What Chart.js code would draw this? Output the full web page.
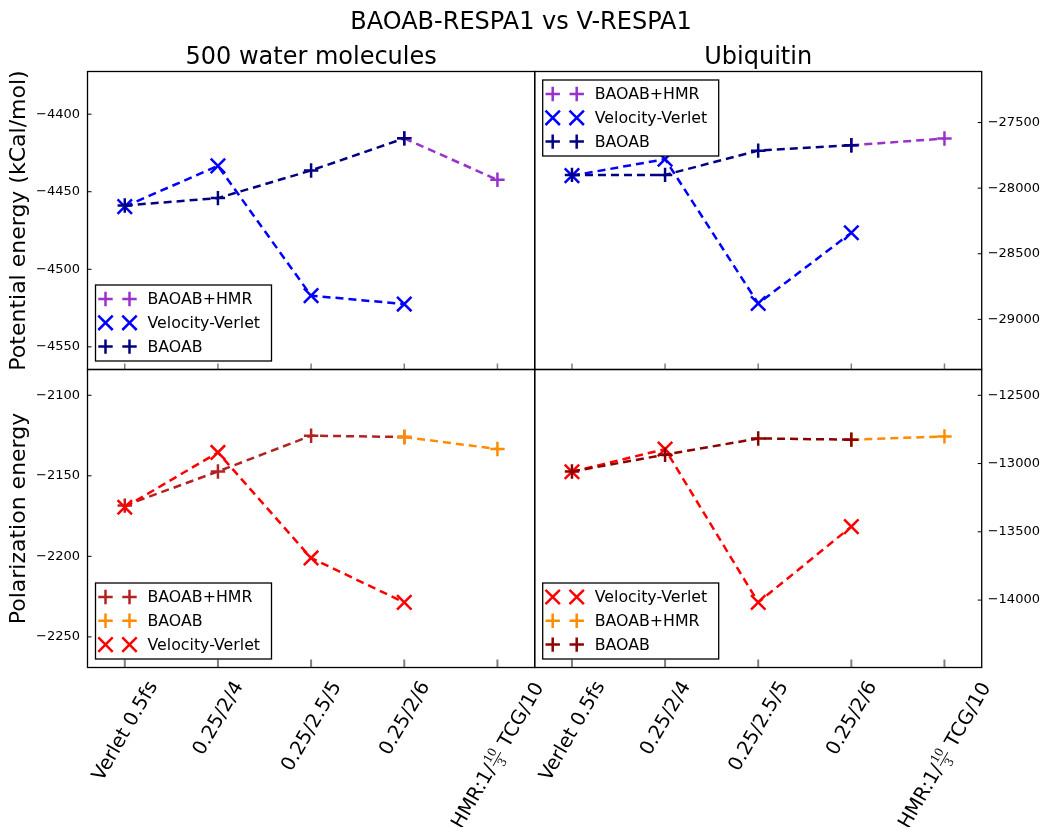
<!DOCTYPE html>
<html>
<head>
<meta charset="utf-8">
<title>BAOAB-RESPA1 vs V-RESPA1</title>
<script src="https://cdn.jsdelivr.net/npm/chart.js@4.4.0/dist/chart.umd.min.js"></script>
<style>
  body { margin: 0; background: #fff; }
  #wrap { position: relative; width: 1042px; height: 827px; }
  #wrap canvas { position: absolute; left: 0; top: 0; }
</style>
</head>
<body>
<div id="wrap">
  <canvas id="waterPot" width="1042" height="827"></canvas>
  <canvas id="ubqPot" width="1042" height="827"></canvas>
  <canvas id="waterPol" width="1042" height="827"></canvas>
  <canvas id="ubqPol" width="1042" height="827"></canvas>
</div>
<script>
// x categories ({a/b} = fraction)
const xLabels = ['Verlet 0.5fs', '0.25/2/4', '0.25/2.5/5', '0.25/2/6', 'HMR:1/{10/3} TCG/10'];

// potential energy, 500 water molecules
const waterPotHMR   = [null, null, null, -4415.6, -4442.3];
const waterPotVV    = [-4459.6, -4433.3, -4517.0, -4522.4, null];
const waterPotBAOAB = [-4458.9, -4454.1, -4436.3, -4415.6, null];
const waterPotRange = [-4564.6, -4372.5];
const waterPotTicks = [-4550, -4500, -4450, -4400];

// potential energy, ubiquitin
const ubqPotHMR   = [null, null, null, -27673, -27622];
const ubqPotVV    = [-27905, -27779, -28879, -28340, null];
const ubqPotBAOAB = [-27899, -27899, -27714, -27673, null];
const ubqPotRange = [-29382, -27111];
const ubqPotTicks = [-29000, -28500, -28000, -27500];

// polarization energy, 500 water molecules
const waterPolHMR   = [-2168.5, -2147.3, -2125.1, -2125.9, null];
const waterPolBAOAB = [null, null, null, -2125.9, -2133.4];
const waterPolVV    = [-2169.5, -2135.5, -2201.0, -2228.6, null];
const waterPolRange = [-2269, -2084];
const waterPolTicks = [-2250, -2200, -2150, -2100];

// polarization energy, ubiquitin
const ubqPolVV    = [-13060, -12894, -14017, -13462, null];
const ubqPolHMR   = [null, null, null, -12825, -12801];
const ubqPolBAOAB = [-13058, -12935, -12816, -12825, null];
const ubqPolRange = [-14494, -12311];
const ubqPolTicks = [-14000, -13500, -13000, -12500];

const W = 1042, H = 827;
const FONT = '"DejaVu Sans", sans-serif';

function series(label, values, color, marker) {
    const pts = [];
    values.forEach((v, i) => { if (v !== null) pts.push({ x: i, y: v }); });
    return {
        label: label,
        data: pts,
        borderColor: color,
        backgroundColor: color,
        borderWidth: 2.5,
        borderDash: [8, 5],
        pointStyle: marker === '+' ? 'cross' : 'crossRot',
        pointRadius: marker === '+' ? 7.2 : 10.2,
        pointBorderWidth: 2.5,
        marker: marker,
        fill: false,
        tension: 0
    };
}

function drawMarker(ctx, marker, x, y, color) {
    ctx.save();
    ctx.strokeStyle = color;
    ctx.lineWidth = 2.5;
    ctx.beginPath();
    if (marker === '+') {
        ctx.moveTo(x - 7.2, y); ctx.lineTo(x + 7.2, y);
        ctx.moveTo(x, y - 7.2); ctx.lineTo(x, y + 7.2);
    } else {
        ctx.moveTo(x - 7.2, y - 7.2); ctx.lineTo(x + 7.2, y + 7.2);
        ctx.moveTo(x - 7.2, y + 7.2); ctx.lineTo(x + 7.2, y - 7.2);
    }
    ctx.stroke();
    ctx.restore();
}

function minus(v) {
    return (v < 0 ? '\u2212' : '') + Math.abs(v);
}

// draw one x label, rotated 60deg, centred under its tick like matplotlib
function drawXLabel(ctx, text, cx, top) {
    const fs = 19.5, small = 11.5;
    const m = text.match(/^(.*)\{(\d+)\/(\d+)\}(.*)$/);
    const parts = m ? [m[1], { num: m[2], den: m[3] }, m[4]] : [text];
    let w = 0;
    const widths = parts.map(p => {
        let pw;
        if (typeof p === 'string') {
            ctx.font = fs + 'px ' + FONT;
            pw = ctx.measureText(p).width;
        } else {
            ctx.font = small + 'px "DejaVu Serif", serif';
            pw = Math.max(ctx.measureText(p.num).width, ctx.measureText(p.den).width) + 3;
        }
        w += pw;
        return pw;
    });
    const h = m ? 26 : 21;
    const a = Math.PI / 3;
    const bh = w * Math.sin(a) + h * Math.cos(a);
    ctx.save();
    ctx.translate(cx, top + bh / 2);
    ctx.rotate(-a);
    ctx.fillStyle = '#000';
    ctx.textBaseline = 'middle';
    ctx.textAlign = 'left';
    let x = -w / 2;
    parts.forEach((p, i) => {
        if (typeof p === 'string') {
            ctx.font = fs + 'px ' + FONT;
            ctx.fillText(p, x, 1);
        } else {
            ctx.font = small + 'px "DejaVu Serif", serif';
            ctx.textAlign = 'center';
            const c = x + widths[i] / 2;
            ctx.fillText(p.num, c, -5.5);
            ctx.fillText(p.den, c, 8.5);
            ctx.fillRect(x + 1, 1, widths[i] - 2, 0.9);
            ctx.textAlign = 'left';
        }
        x += widths[i];
    });
    ctx.restore();
}

const panelDecor = {
    id: 'panelDecor',
    afterDraw(chart, args, opts) {
        const ctx = chart.ctx;
        const a = chart.chartArea;
        const xs = chart.scales.x, ys = chart.scales.y;
        ctx.save();

        // x ticks (inward, grey)
        ctx.strokeStyle = '#7f7f7f';
        ctx.lineWidth = opts.xLabels ? 2 : 1.5;
        const tl = opts.xLabels ? 8 : 6;
        for (let i = 0; i < xLabels.length; i++) {
            const px = xs.getPixelForValue(i);
            ctx.beginPath();
            ctx.moveTo(px, a.bottom);
            ctx.lineTo(px, a.bottom - tl);
            ctx.stroke();
        }

        // y ticks (inward, black)
        ctx.strokeStyle = '#000';
        ctx.lineWidth = 1;
        ys.ticks.forEach(t => {
            const py = ys.getPixelForValue(t.value);
            ctx.beginPath();
            if (opts.ySide === 'left') { ctx.moveTo(a.left, py); ctx.lineTo(a.left + 4, py); }
            else { ctx.moveTo(a.right, py); ctx.lineTo(a.right - 4, py); }
            ctx.stroke();
        });

        // frame
        ctx.lineWidth = 1.3;
        ctx.strokeStyle = '#000';
        ctx.strokeRect(a.left, a.top, a.right - a.left, a.bottom - a.top);

        // legend
        const ds = chart.data.datasets;
        const bw = 176, bh = 76;
        const bx = a.left + 8;
        const by = opts.legendLoc === 'upper left' ? a.top + 8.5 : a.bottom - 8.5 - bh;
        ctx.fillStyle = '#fff';
        ctx.fillRect(bx, by, bw, bh);
        ctx.lineWidth = 1.3;
        ctx.strokeStyle = '#000';
        ctx.strokeRect(bx, by, bw, bh);
        ds.forEach((d, i) => {
            const ry = by + 14 + i * 23.8;
            drawMarker(ctx, d.marker, bx + 10, ry, d.borderColor);
            drawMarker(ctx, d.marker, bx + 34, ry, d.borderColor);
            ctx.fillStyle = '#000';
            ctx.font = '15.8px ' + FONT;
            ctx.textAlign = 'left';
            ctx.textBaseline = 'middle';
            ctx.fillText(d.label, bx + 52, ry + 1);
        });

        // titles
        ctx.fillStyle = '#000';
        ctx.textAlign = 'center';
        ctx.textBaseline = 'alphabetic';
        if (opts.title) {
            ctx.font = '24px ' + FONT;
            ctx.fillText(opts.title, (a.left + a.right) / 2, 64);
        }
        if (opts.suptitle) {
            ctx.font = '24px ' + FONT;
            ctx.fillText(opts.suptitle, W / 2, 29);
        }

        // x labels under bottom panels
        if (opts.xLabels) {
            xLabels.forEach((lab, i) => drawXLabel(ctx, lab, xs.getPixelForValue(i), a.bottom + 10));
        }
        ctx.restore();
    }
};

function makeChart(id, datasets, cfg) {
    const left = cfg.ySide === 'left';
    // matplotlib plots in legend order, so first entry ends underneath
    datasets.forEach((d, i) => { d.order = datasets.length - i; });
    return new Chart(document.getElementById(id), {
        type: 'line',
        data: { datasets: datasets },
        options: {
            responsive: false,
            animation: false,
            events: [],
            devicePixelRatio: 1,
            layout: {
                padding: left
                    ? { left: 0, top: cfg.top, right: W - cfg.right, bottom: H - cfg.bottom }
                    : { left: cfg.left, top: cfg.top, right: 0, bottom: H - cfg.bottom }
            },
            scales: {
                x: {
                    type: 'linear',
                    display: false,
                    min: -0.4,
                    max: 4.4
                },
                y: {
                    position: cfg.ySide,
                    min: cfg.range[0],
                    max: cfg.range[1],
                    afterBuildTicks: s => { s.ticks = cfg.ticks.map(v => ({ value: v })); },
                    afterFit: s => { s.width = left ? cfg.left : W - cfg.right; },
                    grid: { display: false, drawTicks: false },
                    border: { display: false },
                    ticks: {
                        padding: left ? 7.5 : 6,
                        color: '#000',
                        font: { family: FONT, size: 13 },
                        callback: v => minus(v)
                    },
                    title: {
                        display: !!cfg.yTitle,
                        text: cfg.yTitle || '',
                        color: '#000',
                        font: { family: FONT, size: 22 },
                        padding: { top: 6, bottom: 0 }
                    }
                }
            },
            plugins: {
                legend: { display: false },
                tooltip: { enabled: false },
                panelDecor: {
                    ySide: cfg.ySide,
                    legendLoc: cfg.legendLoc,
                    title: cfg.title,
                    suptitle: cfg.suptitle,
                    xLabels: cfg.xLabels
                }
            }
        },
        plugins: [panelDecor]
    });
}

const L = 87.5, M = 534.7, R = 981.7, T = 71.5, MY = 369.5, B = 667.5;

makeChart('waterPot', [
    series('BAOAB+HMR', waterPotHMR, '#9932cc', '+'),
    series('Velocity-Verlet', waterPotVV, '#0000ff', 'x'),
    series('BAOAB', waterPotBAOAB, '#000080', '+')
], { left: L, right: M, top: T, bottom: MY, ySide: 'left', range: waterPotRange, ticks: waterPotTicks,
     yTitle: 'Potential energy (kCal/mol)', title: '500 water molecules',
     suptitle: 'BAOAB-RESPA1 vs V-RESPA1', legendLoc: 'lower left', xLabels: false });

makeChart('ubqPot', [
    series('BAOAB+HMR', ubqPotHMR, '#9932cc', '+'),
    series('Velocity-Verlet', ubqPotVV, '#0000ff', 'x'),
    series('BAOAB', ubqPotBAOAB, '#000080', '+')
], { left: M, right: R, top: T, bottom: MY, ySide: 'right', range: ubqPotRange, ticks: ubqPotTicks,
     title: 'Ubiquitin', legendLoc: 'upper left', xLabels: false });

makeChart('waterPol', [
    series('BAOAB+HMR', waterPolHMR, '#b22222', '+'),
    series('BAOAB', waterPolBAOAB, '#ff8c00', '+'),
    series('Velocity-Verlet', waterPolVV, '#ff0000', 'x')
], { left: L, right: M, top: MY, bottom: B, ySide: 'left', range: waterPolRange, ticks: waterPolTicks,
     yTitle: 'Polarization energy', legendLoc: 'lower left', xLabels: true });

makeChart('ubqPol', [
    series('Velocity-Verlet', ubqPolVV, '#ff0000', 'x'),
    series('BAOAB+HMR', ubqPolHMR, '#ff8c00', '+'),
    series('BAOAB', ubqPolBAOAB, '#8b0000', '+')
], { left: M, right: R, top: MY, bottom: B, ySide: 'right', range: ubqPolRange, ticks: ubqPolTicks,
     legendLoc: 'lower left', xLabels: true });
</script>
</body>
</html>
